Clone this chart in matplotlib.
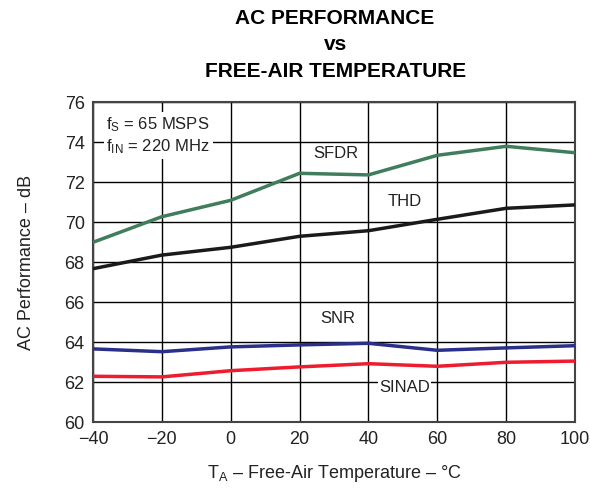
import matplotlib.pyplot as plt

plt.rcParams['font.family'] = ['Liberation Sans', 'DejaVu Sans']
plt.rcParams['mathtext.fontset'] = 'custom'
plt.rcParams['mathtext.rm'] = 'Liberation Sans'
plt.rcParams['mathtext.it'] = 'Liberation Sans'

temps = [-40, -20, 0, 20, 40, 60, 80, 100]
sfdr = [69.0, 70.28, 71.1, 72.45, 72.37, 73.35, 73.8, 73.48]
thd = [67.68, 68.36, 68.75, 69.3, 69.58, 70.15, 70.7, 70.87]
snr = [63.67, 63.53, 63.77, 63.87, 63.95, 63.6, 63.72, 63.83]
sinad = [62.3, 62.27, 62.58, 62.77, 62.93, 62.8, 63.0, 63.06]

fig = plt.figure(figsize=(5.9, 4.95), dpi=100)
ax = fig.add_axes([0.1576, 0.1469, 0.8170, 0.6464])

ax.plot(temps, sfdr, color='#3f7d5d', lw=2.5, zorder=3)
ax.plot(temps, thd, color='#1a1a1a', lw=2.5, zorder=3)
ax.plot(temps, snr, color='#2a2f8a', lw=2.5, zorder=3)
ax.plot(temps, sinad, color='#ee1c2e', lw=2.5, zorder=3)

ax.set_xlim(-40, 100)
ax.set_ylim(60, 76)
ax.set_xticks(range(-40, 101, 20))
ax.set_xticklabels(['\u221240', '\u221220', '0', '20', '40', '60', '80', '100'])
ax.set_yticks(range(60, 77, 2))
ax.tick_params(length=0, labelsize=13, pad=6, labelcolor='#222222')
ax.grid(True, color='black', lw=1, zorder=1)
for s in ax.spines.values():
    s.set_linewidth(1.5)
    s.set_color('#444444')

lbl = dict(fontsize=12, ha='center', va='center', color='#222222')
ax.text(30.5, 73.45, 'SFDR', **lbl)
ax.text(50.5, 71.05, 'THD', **lbl)
ax.text(31, 65.2, 'SNR', **lbl)
ax.text(50.5, 61.75, 'SINAD', bbox=dict(facecolor='white', edgecolor='none', pad=1), zorder=4, **lbl)

ax.text(0.028, 0.96, '$\\mathregular{f_S}$ = 65 MSPS\n$\\mathregular{f_{IN}}$ = 220 MHz',
        transform=ax.transAxes, fontsize=12, ha='left', va='top', linespacing=1.25,
        color='#222222', bbox=dict(facecolor='white', edgecolor='none', pad=2), zorder=4)

ax.set_ylabel('AC Performance \u2013 dB', fontsize=13, labelpad=21, color='#222222')
ax.set_xlabel('$\\mathregular{T_A}$ \u2013 Free-Air Temperature \u2013 \u00b0C', fontsize=13,
              labelpad=11, color='#222222')

fig.text(0.568, 0.982, 'AC PERFORMANCE\nvs\nFREE-AIR TEMPERATURE', ha='center', va='top',
         fontsize=15, fontweight='bold', linespacing=1.5)

fig.savefig('out.png', dpi=100)
